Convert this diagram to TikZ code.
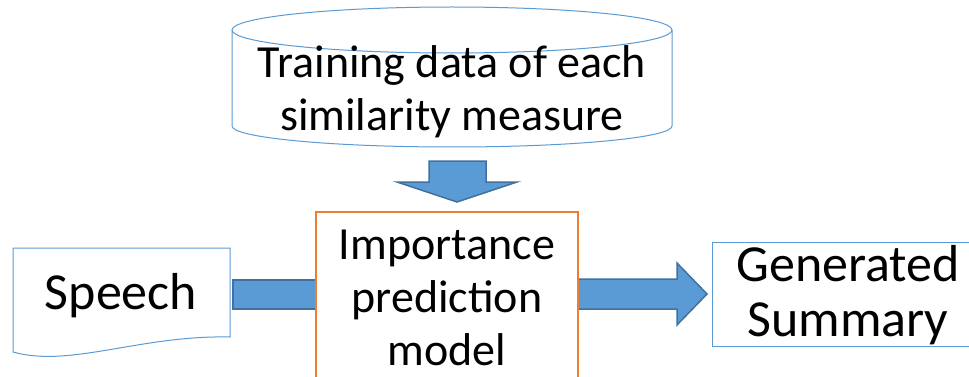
\documentclass[tikz,border=0pt]{standalone}
\usepackage{fontspec}
\setmainfont{Carlito}
\usetikzlibrary{calc}
\definecolor{shapeblue}{HTML}{5B9BD5}
\definecolor{arrowedge}{HTML}{41719C}
\definecolor{boxorange}{HTML}{ED7D31}
\tikzset{
  bluebox/.style={draw=shapeblue, line width=1pt, fill=white},
  blockarrow/.style={fill=shapeblue, draw=arrowedge, line width=1.5pt, line join=miter},
  midtext/.style={font=\fontsize{46}{53}\selectfont, align=center, inner sep=0pt},
  bigtext/.style={font=\fontsize{52}{55}\selectfont, align=center, inner sep=0pt},
}
\begin{document}
\begin{tikzpicture}[x=1pt,y=-1pt]
\useasboundingbox (0,0) rectangle (969,377);
\clip (0,0) rectangle (969,377);
\fill[white] (0,0) rectangle (969,377);
% cylinder (training data)
\draw[bluebox] (232,30) -- (232,126) arc[start angle=180, end angle=0, x radius=220, y radius=21] -- (672,30);
\draw[bluebox] (452,30) ellipse[x radius=220, y radius=23];
\node[midtext] (train) at (452,92) {Training data of each\\similarity measure};
% speech document
\draw[bluebox] (13,248) -- (230,248) -- (230,337) .. controls (140,335) and (70,368) .. (13,352) -- cycle;
\node[bigtext] (speech) at (121,296) {Speech};
% left block arrow (head hidden under the model box)
\draw[blockarrow] (233,280) rectangle (330,309);
% model box
\node[draw=boxorange, line width=2pt, fill=white, minimum width=262pt, minimum height=190pt] (model) at (447,307) {};
\node[midtext] (modeltext) at (447,298) {Importance\\prediction\\model};
% down block arrow
\draw[blockarrow] (429,161) -- (486,161) -- (486,182) -- (517,182) -- (457,202) -- (397,182) -- (429,182) -- cycle;
% right block arrow
\draw[blockarrow] (model.east |- 0,279) -- (677,279) -- (677,263) -- (707,294) -- (677,325) -- (677,309) -- (model.east |- 0,309);
% generated summary
\node[bluebox, minimum width=272pt, minimum height=104pt] (summary) at (848,294) {};
\node[bigtext] (summarytext) at (848,295) {Generated\\Summary};
\end{tikzpicture}
\end{document}
